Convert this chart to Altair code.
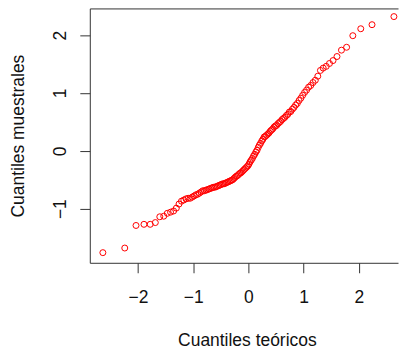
import altair as alt
import pandas as pd

# Theoretical normal quantiles (x) and sorted sample values (y)
theoretical = [
    -2.638, -2.241, -2.037, -1.893, -1.780, -1.687, -1.606, -1.534, -1.470, -1.411,
    -1.356, -1.306, -1.258, -1.213, -1.171, -1.131, -1.092, -1.055, -1.019, -0.984,
    -0.951, -0.919, -0.887, -0.856, -0.827, -0.798, -0.769, -0.742, -0.714, -0.688,
    -0.661, -0.636, -0.610, -0.585, -0.561, -0.536, -0.512, -0.489, -0.465, -0.442,
    -0.419, -0.397, -0.374, -0.352, -0.330, -0.308, -0.286, -0.264, -0.243, -0.221,
    -0.200, -0.179, -0.157, -0.136, -0.115, -0.094, -0.073, -0.052, -0.031, -0.010,
    0.010, 0.031, 0.052, 0.073, 0.094, 0.115, 0.136, 0.157, 0.179, 0.200,
    0.221, 0.243, 0.264, 0.286, 0.308, 0.330, 0.352, 0.374, 0.397, 0.419,
    0.442, 0.465, 0.489, 0.512, 0.536, 0.561, 0.585, 0.610, 0.636, 0.661,
    0.688, 0.714, 0.742, 0.769, 0.798, 0.827, 0.856, 0.887, 0.919, 0.951,
    0.984, 1.019, 1.055, 1.092, 1.131, 1.171, 1.213, 1.258, 1.306, 1.356,
    1.411, 1.470, 1.534, 1.606, 1.687, 1.780, 1.893, 2.037, 2.241, 2.638,
]

sample = [
    -1.76, -1.68, -1.29, -1.27, -1.27, -1.24, -1.14, -1.13, -1.08, -1.06,
    -1.04, -0.99, -0.92, -0.87, -0.85, -0.83, -0.82, -0.82, -0.80, -0.78,
    -0.76, -0.75, -0.73, -0.71, -0.69, -0.69, -0.68, -0.67, -0.66, -0.65,
    -0.64, -0.63, -0.63, -0.62, -0.61, -0.60, -0.59, -0.58, -0.57, -0.57,
    -0.56, -0.55, -0.54, -0.53, -0.52, -0.51, -0.50, -0.48, -0.46, -0.44,
    -0.43, -0.41, -0.39, -0.38, -0.36, -0.34, -0.32, -0.30, -0.28, -0.26,
    -0.23, -0.19, -0.16, -0.13, -0.09, -0.06, -0.02, 0.01, 0.06, 0.10,
    0.13, 0.17, 0.20, 0.24, 0.25, 0.27, 0.29, 0.31, 0.34, 0.36,
    0.38, 0.41, 0.43, 0.44, 0.47, 0.49, 0.51, 0.54, 0.56, 0.58,
    0.61, 0.63, 0.67, 0.68, 0.72, 0.75, 0.79, 0.82, 0.87, 0.91,
    0.96, 1.01, 1.05, 1.10, 1.13, 1.18, 1.22, 1.29, 1.39, 1.43,
    1.46, 1.51, 1.56, 1.63, 1.74, 1.79, 1.99, 2.11, 2.18, 2.32,
]

x_ticks = [-2, -1, 0, 1, 2]
y_ticks = [-1, 0, 1, 2]
x_domain = [-2.875, 2.712]
y_domain = [-1.935, 2.461]

df = pd.DataFrame({"teorico": theoretical, "muestral": sample})

FONT = "Liberation Sans"
TEXT = "#111111"
LINE = "#333333"
FS = 17.5

x_scale = alt.Scale(domain=x_domain, nice=False, zero=False)
y_scale = alt.Scale(domain=y_domain, nice=False, zero=False)

points = (
    alt.Chart(df)
    .mark_point(shape="circle", filled=False, color="#ff0000", size=36,
                strokeWidth=1, opacity=1)
    .encode(
        x=alt.X(
            "teorico:Q", scale=x_scale,
            axis=alt.Axis(
                values=x_ticks, title="Cuantiles teóricos", orient="bottom",
                domain=True, domainColor=LINE, grid=False,
                tickSize=10, tickColor=LINE, labelPadding=29.5,
                labelBaseline="alphabetic", labelFont=FONT, labelFontSize=FS,
                labelColor=TEXT, labelFlush=False, labelOverlap=False,
                titleFont=FONT, titleFontSize=FS, titleFontWeight="normal",
                titleColor=TEXT, titleBaseline="alphabetic",
                titleY=82.5, titleX=157.5, titleAlign="center",
            ),
        ),
        y=alt.Y(
            "muestral:Q", scale=y_scale,
            axis=alt.Axis(
                values=y_ticks, title="Cuantiles muestrales",
                domain=True, domainColor=LINE, grid=False,
                tickSize=10, tickColor=LINE, labelPadding=14, labelAngle=270,
                labelAlign="center", labelBaseline="alphabetic",
                labelFont=FONT, labelFontSize=FS, labelColor=TEXT,
                labelFlush=False, labelOverlap=False,
                titleFont=FONT, titleFontSize=FS, titleFontWeight="normal",
                titleColor=TEXT, titleAngle=270, titleBaseline="alphabetic",
                titleAlign="center", titleX=-66, titleY=127.5,
            ),
        ),
    )
)

# invisible layer that only carries the top border line of the plot box
top_border = (
    alt.Chart(df)
    .mark_point(opacity=0)
    .encode(
        x=alt.X("teorico:Q", scale=x_scale,
                axis=alt.Axis(orient="top", labels=False, ticks=False,
                              title=None, domain=True, domainColor=LINE,
                              grid=False)),
        y=alt.Y("muestral:Q", scale=y_scale, axis=None),
    )
)

chart = (
    alt.layer(points, top_border)
    .resolve_axis(x="independent", y="independent")
    .properties(width=309, height=255,
                padding={"left": 2, "top": 0, "right": 0, "bottom": 0},
                background="white")
    .configure_view(strokeWidth=0)
)

chart.save("out.html", embed_options={"renderer": "svg", "actions": False})
